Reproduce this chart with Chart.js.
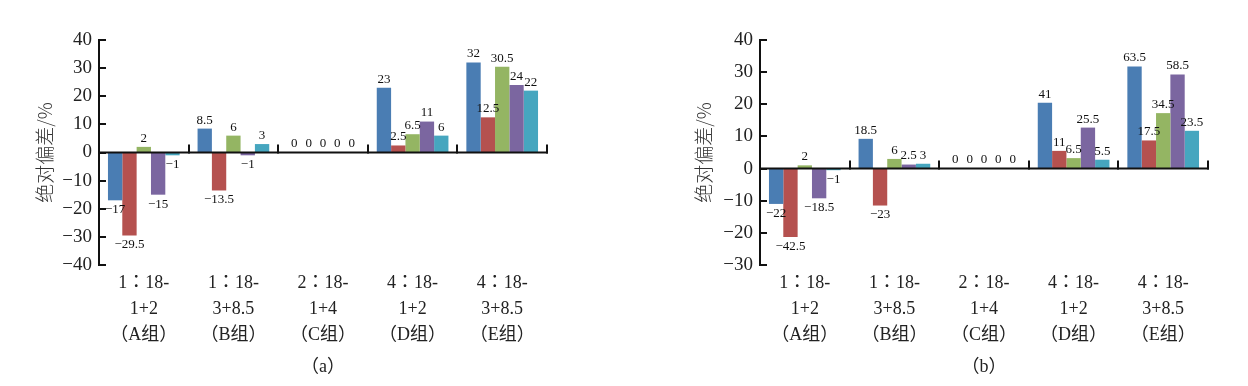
<!DOCTYPE html>
<html><head><meta charset="utf-8">
<script src="https://cdn.jsdelivr.net/npm/chart.js@4"></script>
<style>
body{margin:0;background:#fff;width:1248px;height:386px;position:relative;overflow:hidden}
.w{position:absolute;top:0;width:624px;height:386px}
</style></head><body>
<div class="w" style="left:0"><canvas id="ca" width="624" height="386"></canvas></div>
<div class="w" style="left:624px"><canvas id="cb" width="624" height="386"></canvas></div>
<script>
// ---- data ----
const categories = [
  ["1：18-", "1+2", "（A组）"],
  ["1：18-", "3+8.5", "（B组）"],
  ["2：18-", "1+4", "（C组）"],
  ["4：18-", "1+2", "（D组）"],
  ["4：18-", "3+8.5", "（E组）"]
];
const seriesColors = ["#4a7db3", "#b5514f", "#94b563", "#7b66a0", "#46a6bf"];

// panel (a)
const a_series1 = [-17, 8.5, 0, 23, 32];
const a_series2 = [-29.5, -13.5, 0, 2.5, 12.5];
const a_series3 = [2, 6, 0, 6.5, 30.5];
const a_series4 = [-15, -1, 0, 11, 24];
const a_series5 = [-1, 3, 0, 6, 22];
const a_yTicks = [-40, -30, -20, -10, 0, 10, 20, 30, 40];

// panel (b) bar heights as drawn
const b_series1 = [-11, 9.25, 0, 20.5, 31.75];
const b_series2 = [-21.25, -11.5, 0, 5.5, 8.75];
const b_series3 = [1, 3, 0, 3.25, 17.25];
const b_series4 = [-9.25, 1.25, 0, 12.75, 29.25];
const b_series5 = [-0.5, 1.5, 0, 2.75, 11.75];
// panel (b) printed labels
const b_labels1 = ["−22", "18.5", "0", "41", "63.5"];
const b_labels2 = ["−42.5", "−23", "0", "11", "17.5"];
const b_labels3 = ["2", "6", "0", "6.5", "34.5"];
const b_labels4 = ["−18.5", "2.5", "0", "25.5", "58.5"];
const b_labels5 = ["−1", "3", "0", "5.5", "23.5"];
const b_yTicks = [-30, -20, -10, 0, 10, 20, 30, 40];

const fmt = v => (v < 0 ? "−" + Math.abs(v) : String(v));

const serif = "'Liberation Serif','Noto Sans CJK TC',serif";
const tickFmt = v => (v < 0 ? "−" + Math.abs(v) : String(v));

const decor = {
  id: 'decor',
  afterDatasetsDraw(chart) {
    const ctx = chart.ctx, x = chart.scales.x, y = chart.scales.y, a = chart.chartArea;
    const y0 = y.getPixelForValue(0);
    ctx.save();
    ctx.strokeStyle = '#111';
    ctx.lineWidth = 2;
    ctx.beginPath(); ctx.moveTo(a.left, y0); ctx.lineTo(a.right + 1, y0); ctx.stroke();
    y.ticks.forEach(t => {
      const py = Math.round(y.getPixelForValue(t.value));
      ctx.beginPath(); ctx.moveTo(a.left, py); ctx.lineTo(a.left + 7, py); ctx.stroke();
    });
    const n = chart.data.labels.length, w = (a.right - a.left) / n;
    for (let i = 1; i <= n; i++) {
      const px = Math.round(a.left + i * w);
      ctx.beginPath(); ctx.moveTo(px, y0 + 1); ctx.lineTo(px, y0 - 8); ctx.stroke();
    }
    ctx.fillStyle = '#111';
    ctx.font = "13px " + serif;
    ctx.textAlign = 'center';
    chart.data.datasets.forEach((ds, di) => {
      const meta = chart.getDatasetMeta(di);
      meta.data.forEach((bar, i) => {
        const v = ds.data[i];
        const txt = ds.valueLabels ? ds.valueLabels[i] : fmt(v);
        if (v < 0) { ctx.textBaseline = 'top'; ctx.fillText(txt, bar.x, bar.y + 3); }
        else { ctx.textBaseline = 'bottom'; ctx.fillText(txt, bar.x, bar.y - 2); }
      });
    });
    ctx.restore();
  }
};

function makeChart(id, series, labelSets, yTicks, leftW, rightPad, titlePad, panel) {
  const datasets = series.map((d, i) => ({
    data: d,
    valueLabels: labelSets ? labelSets[i] : null,
    backgroundColor: seriesColors[i],
    borderWidth: 0,
    categoryPercentage: 0.8,
    barPercentage: 1.0
  }));
  return new Chart(document.getElementById(id), {
    type: 'bar',
    data: { labels: categories, datasets },
    plugins: [decor],
    options: {
      responsive: false, animation: false, devicePixelRatio: 1,
      layout: { padding: { left: 0, top: 40, right: rightPad, bottom: 0 } },
      plugins: { legend: { display: false }, tooltip: { enabled: false } },
      scales: {
        x: {
          grid: { display: false, drawTicks: false },
          border: { display: false },
          ticks: { color: '#222', font: { family: serif, size: 18, lineHeight: '26px' }, padding: 5, maxRotation: 0, autoSkip: false },
          title: { display: true, text: panel, color: '#222', font: { family: serif, size: 18 }, padding: { bottom: 8, top: 0 } },
          afterFit: s => { s.height = 121; }
        },
        y: {
          min: yTicks[0], max: yTicks[yTicks.length - 1],
          afterBuildTicks: s => { s.ticks = yTicks.map(v => ({ value: v })); },
          grid: { display: false, drawTicks: false },
          border: { display: true, color: '#111', width: 2 },
          ticks: { color: '#222', font: { family: serif, size: 19 }, padding: 7, callback: tickFmt },
          title: { display: true, text: '绝对偏差/%', color: '#333', font: { family: "'Noto Sans CJK SC',sans-serif", size: 19, weight: '300' }, padding: { top: titlePad, bottom: 0 } },
          afterFit: s => { s.width = leftW; }
        }
      }
    }
  });
}

makeChart('ca', [a_series1, a_series2, a_series3, a_series4, a_series5], null, a_yTicks, 99, 77, 33, '（a）');
makeChart('cb', [b_series1, b_series2, b_series3, b_series4, b_series5],
  [b_labels1, b_labels2, b_labels3, b_labels4, b_labels5], b_yTicks, 136, 40, 68, '（b）');
</script>
</body></html>
